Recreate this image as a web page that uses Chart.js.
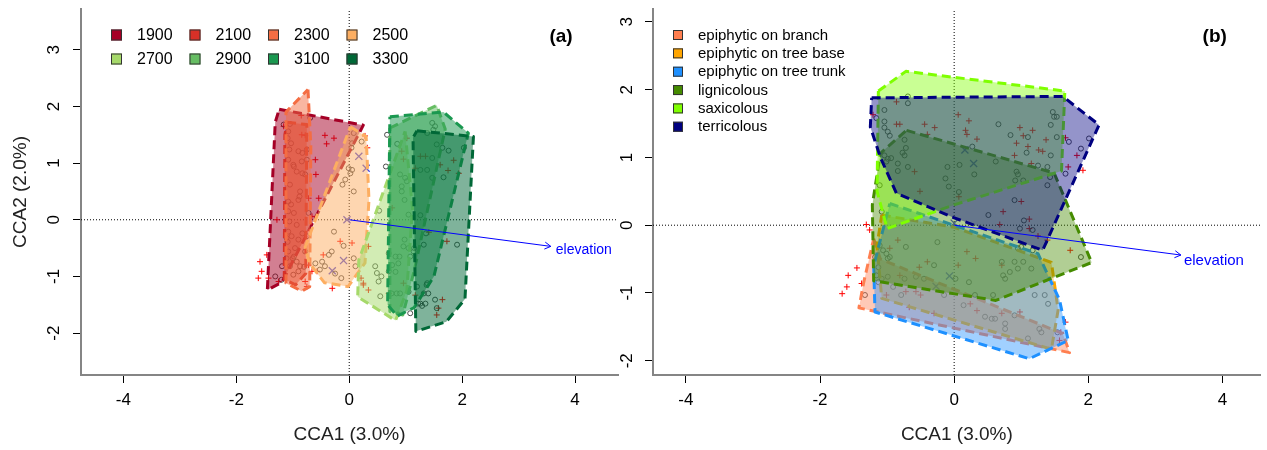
<!DOCTYPE html>
<html>
<head>
<meta charset="utf-8">
<script src="https://cdn.jsdelivr.net/npm/chart.js@4.4.1/dist/chart.umd.min.js"></script>
<style>
  html, body { margin: 0; padding: 0; background: #ffffff; }
  #wrap { position: relative; width: 1267px; height: 450px; overflow: hidden; }
  #boxA { position: absolute; left: 0; top: 0; width: 625px; height: 450px; }
  #boxB { position: absolute; left: 600px; top: 0; width: 667px; height: 450px; }
</style>
</head>
<body>
<div id="wrap">
  <div id="boxA"><canvas id="cA" width="625" height="450"></canvas></div>
  <div id="boxB"><canvas id="cB" width="667" height="450"></canvas></div>
</div>
<script>
// ---------- axes ----------
const xTicks = [-4, -2, 0, 2, 4];
const yTicks = [-2, -1, 0, 1, 2, 3];

// ---------- panel (a): elevation groups ----------
const elevationLabels = ['1900', '2100', '2300', '2500', '2700', '2900', '3100', '3300'];
const elevationColors = ['#a50026', '#d73027', '#f46d43', '#fdae61', '#a6d96a', '#66bd63', '#1a9850', '#006837'];

// hull vertices (CCA1, CCA2) per elevation
const hull1900 = [[-1.24, 1.95], [0.25, 1.67], [-1.19, -1.10], [-1.45, -1.24], [-1.31, 1.72]];
const hull2100 = [[-1.10, 1.72], [-0.75, 1.68], [-0.77, -0.95], [-0.95, -1.15], [-1.15, -1.05], [-1.14, 1.50]];
const hull2300 = [[-0.73, 2.30], [-0.68, 1.30], [-0.70, -1.18], [-0.84, -1.26], [-1.12, -1.12], [-1.12, 1.90]];
const hull2500 = [[0.02, 1.64], [0.30, 1.47], [0.35, 0.35], [0.28, -0.76], [-0.02, -1.18], [-0.44, -1.11], [-0.71, -0.76], [-0.78, -0.48]];
const hull2700 = [[0.99, 1.56], [1.12, 0.20], [1.02, -1.25], [0.82, -1.78], [0.15, -1.36], [0.17, -0.71]];
const hull2900 = [[0.72, 1.62], [1.55, 2.02], [1.70, 1.60], [1.15, -0.90], [0.95, -1.68], [0.72, -1.62]];
const hull3100 = [[0.72, 1.82], [1.67, 1.90], [2.11, 1.53], [1.50, -1.00], [1.15, -1.55], [0.85, -1.70], [0.68, -1.50]];
const hull3300 = [[1.20, 1.57], [2.20, 1.47], [2.05, -1.40], [1.72, -1.80], [1.18, -1.97], [1.13, 1.45]];
const hullsA = [hull1900, hull2100, hull2300, hull2500, hull2700, hull2900, hull3100, hull3300];

// site scores
const sitesA = [
  [-0.69, 1.80], [-1.05, 1.69], [-1.08, 1.56], [-1.09, 1.44], [-1.03, 1.35], [-1.06, 1.24], [-1.08, 1.06], [-0.90, 1.21],
  [-0.99, 0.97], [-0.84, 1.03], [-0.93, 0.85], [-0.78, 0.80], [-0.83, 0.82], [-0.75, 1.06], [-0.75, 1.24], [-1.05, 0.62],
  [-0.87, 0.50], [-1.08, 0.32], [-1.03, 0.27], [-0.90, 0.35], [-1.08, 0.15], [-1.06, -0.03], [-0.93, -0.09], [-1.08, -0.21],
  [-1.11, -0.32], [-1.02, -0.29], [-0.90, -0.35], [-0.96, -0.50], [-1.08, -0.56], [-1.11, -0.68], [-1.00, -0.68], [-0.93, -0.74],
  [-0.87, -0.82], [-1.05, -0.82], [-1.19, -0.82], [-0.99, -0.97], [-0.90, -0.91], [-1.31, -1.00], [-0.78, -0.56], [-0.75, -0.29],
  [-0.72, 0.12], [-1.16, 1.68], [-0.83, 1.18], [-0.98, 0.94], [-0.88, 0.41], [-0.98, 0.12], [-0.83, -0.24], [-1.09, -0.39],
  [-0.98, -0.65], [-0.80, -0.83], [-1.20, -1.06],
  [0.08, 1.53], [0.05, 1.35], [0.04, 1.27], [-0.01, 0.91], [0.02, 0.82], [-0.07, 0.71], [-0.12, 0.62], [0.08, 0.50],
  [0.05, 0.88], [-0.27, -0.21], [-0.31, -0.56], [-0.48, -0.74], [-0.60, -0.77], [-0.43, -0.82], [-0.14, -1.03], [0.08, -0.68],
  [0.11, -0.82], [0.22, 1.38], [-0.36, -0.62], [-0.52, -0.88], [-0.25, -0.95], [-0.10, -0.46],
  [0.67, 1.50], [0.85, 1.34], [0.65, 0.94], [0.90, 0.80], [0.99, 0.74], [1.02, 0.68], [0.93, 0.59], [0.98, 0.35],
  [0.53, 0.16], [1.05, 0.09], [0.98, -0.35], [0.96, -0.47], [1.05, -0.50], [1.14, -0.56], [0.70, -0.59], [0.82, -0.65],
  [0.87, -0.77], [0.76, -0.80], [0.70, -0.91], [0.82, -0.92], [0.46, -0.82], [0.49, -0.94], [0.52, -1.09], [0.55, -1.35],
  [0.84, -1.30], [0.90, -1.30], [1.05, -1.27], [1.20, -1.18], [1.32, -1.30], [1.38, -1.12], [1.26, -1.48], [1.29, -1.52],
  [1.35, -1.48], [1.52, -1.41], [1.55, -1.56], [1.08, -1.65], [1.47, 1.71], [1.52, 1.65], [1.49, 1.59], [1.38, 1.53],
  [1.55, 1.33], [1.65, 1.27], [1.76, 1.22], [2.03, 1.27], [1.26, 0.88], [1.38, 0.88], [1.47, 0.74], [1.67, 0.75],
  [1.91, -0.44], [1.32, -0.44], [1.47, 1.09], [0.93, 0.50], [1.26, 0.08], [1.36, -0.24], [1.15, -0.50], [0.89, -0.65],
  [1.08, -0.65], [0.57, -1.00], [0.75, -1.30], [1.37, -1.15], [1.40, -1.30], [1.22, -1.48]
];
// species scores
const speciesA = [
  [-0.85, 1.84], [-1.16, 1.65], [-0.84, 1.50], [-0.78, 1.49], [-0.43, 1.49], [-0.27, 1.44], [-0.40, 1.34], [-0.60, 1.06],
  [-0.59, 0.80], [-0.54, 0.38], [-0.72, 0.38], [-1.28, 0.00], [-0.66, 0.06], [-0.16, -0.38], [0.05, -0.41], [-0.46, -0.62],
  [-1.58, -0.74], [-1.46, -0.62], [-1.55, -0.91], [-1.61, -1.03], [-1.43, -1.03], [-1.25, -1.09], [-0.72, -0.80], [-0.66, -0.91],
  [-0.57, -0.91], [-0.78, -1.09], [-0.75, -1.18], [-0.30, -1.21], [0.21, -1.03], [0.25, -1.15], [0.28, 1.48], [0.32, 1.27],
  [1.02, 1.44], [0.93, 1.21], [0.96, 1.07], [1.26, 1.12], [1.35, 1.12], [1.17, 0.91], [1.61, 0.97], [1.75, 0.87],
  [1.94, 0.82], [1.85, 1.05], [0.76, 0.21], [1.41, -0.22], [1.73, -0.38], [0.34, -0.47], [0.25, -1.12], [0.34, -1.24],
  [0.96, -1.12], [1.17, -1.33], [0.70, -1.30], [1.65, -1.41], [1.58, -1.56], [1.55, -1.68]
];
const centroidsA = [[0.17, 1.12], [0.30, 0.91], [-0.04, 0.00], [-0.10, -0.72], [-0.30, -0.90]];
const elevationArrowA = [3.57, -0.47];

// ---------- panel (b): substrate groups ----------
const substrateLabels = ['epiphytic on branch', 'epiphytic on tree base', 'epiphytic on tree trunk', 'lignicolous', 'saxicolous', 'terricolous'];
const substrateColors = ['#ff7f50', '#ffa500', '#1e90ff', '#458b00', '#7fff00', '#000080'];

const hullBranch = [[-1.20, -0.20], [-1.10, -0.50], [1.62, -1.60], [1.72, -1.88], [-1.42, -1.22], [-1.35, -0.85]];
const hullTreeBase = [[-1.08, 0.15], [0.00, -0.03], [1.45, -0.55], [1.55, -1.25], [1.45, -1.83], [-1.08, -1.08], [-1.15, -0.30]];
const hullTreeTrunk = [[-0.96, 0.32], [1.25, -0.42], [1.57, -1.10], [1.70, -1.70], [1.12, -1.97], [-1.18, -1.28], [-1.20, -0.60]];
const hullLignicolous = [[-0.71, 1.40], [1.49, 0.77], [2.05, -0.55], [0.62, -1.11], [-1.20, -0.82], [-1.22, 0.30], [-1.10, 1.06]];
const hullSaxicolous = [[-1.13, 1.98], [-0.72, 2.27], [1.65, 1.98], [1.60, 0.80], [0.00, 0.30], [-1.00, -0.05], [-1.15, 0.50]];
const hullTerricolous = [[-1.23, 1.88], [1.62, 1.90], [2.16, 1.48], [1.32, -0.37], [-0.03, 0.12], [-0.86, 0.47], [-1.10, 1.00], [-1.25, 1.45]];
const hullsB = [hullBranch, hullTreeBase, hullTreeTrunk, hullLignicolous, hullSaxicolous, hullTerricolous];

const sitesB = [
  [-0.69, 1.90], [-0.69, 1.80], [-1.04, 1.70], [-1.16, 1.58], [-1.04, 1.53], [-1.04, 1.44], [-0.99, 1.38], [-0.96, 1.32],
  [-0.74, 1.26], [-0.72, 1.14], [-0.77, 1.07], [-0.74, 1.03], [-1.04, 1.03], [-0.99, 0.98], [-0.94, 0.99], [-1.01, 0.94],
  [-0.84, 0.91], [-0.84, 0.80], [-0.69, 0.86], [-1.11, 0.59], [-0.10, 0.86], [-0.13, 0.69], [-0.08, 0.57], [-1.08, 0.20],
  [-0.72, -0.32], [-0.25, -0.25], [-1.11, -0.30], [-1.06, -0.37], [-1.01, -0.42], [-0.96, -0.47], [-0.99, -0.49], [-1.18, -0.47],
  [-1.13, -0.62], [-1.16, -0.74], [-1.08, -0.79], [-0.99, -0.76], [-1.13, -0.84], [-0.57, -0.76], [-0.45, -0.79], [-0.30, -0.59],
  [-0.74, -0.79], [-0.79, -1.03], [-1.33, -1.03], [-0.15, -1.03], [-0.91, -0.91],
  [1.47, 1.67], [1.49, 1.60], [1.53, 1.60], [1.44, 1.48], [0.66, 1.49], [0.84, 1.33], [1.10, 1.30], [1.53, 1.30],
  [1.08, 1.07], [1.44, 1.03], [0.27, 1.16], [0.62, 0.94], [0.93, 0.79], [0.95, 0.75], [1.03, 0.66], [0.91, 0.66],
  [1.25, 0.88], [1.39, 0.86], [1.43, 0.71], [1.39, 0.59], [0.08, 0.89], [0.30, 0.75], [0.07, 0.49], [0.90, 0.37],
  [1.04, 0.07], [0.98, -0.05], [1.17, -0.07], [0.51, 0.15], [1.71, 1.23], [1.89, 1.13], [2.01, 1.28], [1.66, 0.76],
  [0.95, -0.34], [1.00, -0.32], [1.17, -0.37], [1.89, -0.47], [0.71, -0.54], [0.73, -0.74], [0.76, -0.79], [0.83, -0.69],
  [0.90, -0.54], [1.03, -0.54], [1.15, -0.64], [0.95, -0.64], [1.20, -1.03], [1.35, -1.03], [1.40, -1.16], [0.58, -1.03],
  [0.46, -1.35], [0.56, -1.38], [0.61, -1.38], [0.76, -1.45], [0.76, -1.53], [0.90, -1.33], [1.27, -1.53], [1.30, -1.58],
  [1.10, -1.67], [1.54, -1.58], [0.14, -1.18], [0.02, -0.79], [0.22, -0.84], [0.31, -1.03]
];
const speciesB = [
  [-0.86, 1.82], [-0.81, 1.49], [-0.86, 1.49], [-0.44, 1.49], [-0.29, 1.44], [-0.40, 1.34], [-1.21, 1.63], [-0.59, 0.79],
  [-0.51, 0.50], [-1.31, 0.01], [-1.26, -0.07], [-1.58, -0.74], [-1.45, -0.63], [-1.67, -1.01], [-1.60, -0.91], [-1.38, -0.86],
  [-0.84, -0.22], [-0.96, -0.34], [-0.40, -0.54], [-0.52, -0.62], [-0.81, -0.74], [-0.72, -0.98], [-0.57, -0.98], [-0.50, -1.03],
  [-1.01, -1.03], [-0.67, -1.21], [-0.30, -1.30],
  [0.06, 1.63], [0.22, 1.54], [0.98, 1.44], [1.17, 1.40], [0.17, 1.40], [1.03, 1.32], [0.19, 1.34], [0.34, 1.27],
  [1.37, 1.26], [0.93, 1.21], [1.10, 1.16], [1.26, 1.11], [1.32, 1.09], [0.90, 1.03], [1.15, 0.91], [1.66, 1.29],
  [1.83, 1.03], [1.70, 0.86], [1.92, 0.81], [0.07, 0.42], [0.73, 0.20], [1.00, 0.35], [1.12, 0.09], [1.12, -0.05],
  [1.25, -0.16], [1.39, -0.22], [1.73, -0.37], [0.68, 0.01], [0.19, -0.39], [0.32, -0.49], [0.06, -0.59], [0.71, -0.59],
  [0.24, -1.16], [0.34, -1.26], [0.71, -1.30], [0.98, -1.28], [1.66, -1.43], [1.59, -1.58], [1.57, -1.70]
];
const centroidsB = [[0.16, 1.11], [0.29, 0.91], [-0.07, -0.75], [-0.27, -0.90], [0.00, 0.03]];
const elevationArrowB = [3.38, -0.44];

// ---------- drawing ----------
const FONT = "'Liberation Sans', Arial, Helvetica, sans-serif";

function rgba(hex, a) {
  const n = parseInt(hex.slice(1), 16);
  return 'rgba(' + (n >> 16) + ',' + ((n >> 8) & 255) + ',' + (n & 255) + ',' + a + ')';
}
function toXY(list) { return list.map(p => ({ x: p[0], y: p[1] })); }

function hullDataset(pts, color, alpha, order) {
  return {
    data: toXY(pts.concat([pts[0]])),
    showLine: true,
    fill: 'shape',
    backgroundColor: rgba(color, alpha),
    borderColor: color,
    borderWidth: 3,
    borderDash: [9, 5],
    borderJoinStyle: 'round',
    pointRadius: 0,
    order: order
  };
}

// decorations: rotated y tick labels, arrow head + label, legend, panel tag
const panelDecor = {
  id: 'panelDecor',
  afterDraw(chart, args, opts) {
    const { ctx, chartArea: area, scales } = chart;
    const xs = scales.x, ys = scales.y;
    ctx.save();
    // y tick labels, rotated like base R
    ctx.fillStyle = '#000';
    ctx.font = '17px ' + FONT;
    ctx.textAlign = 'center';
    ctx.textBaseline = 'middle';
    yTicks.forEach(v => {
      const py = ys.getPixelForValue(v);
      ctx.save();
      ctx.translate(area.left - opts.yLabelGap, py);
      ctx.rotate(-Math.PI / 2);
      ctx.fillText(String(v), 0, 0);
      ctx.restore();
    });
    // arrow head and label
    const ox = xs.getPixelForValue(0), oy = ys.getPixelForValue(0);
    const tx = xs.getPixelForValue(opts.arrow[0]), ty = ys.getPixelForValue(opts.arrow[1]);
    const ang = Math.atan2(ty - oy, tx - ox);
    const hl = 7;
    ctx.strokeStyle = '#0000ff';
    ctx.lineWidth = 1;
    ctx.beginPath();
    ctx.moveTo(tx - hl * Math.cos(ang - Math.PI / 6), ty - hl * Math.sin(ang - Math.PI / 6));
    ctx.lineTo(tx, ty);
    ctx.lineTo(tx - hl * Math.cos(ang + Math.PI / 6), ty - hl * Math.sin(ang + Math.PI / 6));
    ctx.stroke();
    ctx.fillStyle = '#0000ff';
    ctx.font = opts.arrowFont + 'px ' + FONT;
    ctx.textAlign = 'left';
    ctx.textBaseline = 'middle';
    ctx.fillText('elevation', tx + opts.arrowText[0], ty + opts.arrowText[1]);
    // legend
    const lg = opts.legend;
    ctx.font = lg.fontSize + 'px ' + FONT;
    lg.labels.forEach((lab, i) => {
      const col = i % lg.cols, row = Math.floor(i / lg.cols);
      const bx = area.left + lg.x + col * lg.colStep;
      const by = lg.y + row * lg.rowStep;
      ctx.fillStyle = lg.colors[i];
      ctx.fillRect(bx, by - lg.box / 2, lg.box, lg.box);
      ctx.strokeStyle = '#333';
      ctx.lineWidth = 1;
      ctx.strokeRect(bx + 0.5, by - lg.box / 2 + 0.5, lg.box - 1, lg.box - 1);
      ctx.fillStyle = '#000';
      ctx.textAlign = 'left';
      ctx.fillText(lab, bx + lg.textGap, by + 0.5);
    });
    // panel tag
    ctx.font = 'bold 19px ' + FONT;
    ctx.textAlign = 'center';
    ctx.fillStyle = '#000';
    ctx.fillText(opts.tag, area.right - opts.tagFromRight, 37);
    ctx.restore();
  }
};

function buildChart(canvasId, p) {
  const datasets = [];
  // reference lines through the origin
  datasets.push({ data: [{ x: p.xRange[0], y: 0 }, { x: p.xRange[1], y: 0 }], showLine: true, borderColor: '#000', borderWidth: 1, borderDash: [1, 2], pointRadius: 0, order: 90 });
  datasets.push({ data: [{ x: 0, y: p.yRange[0] }, { x: 0, y: p.yRange[1] }], showLine: true, borderColor: '#000', borderWidth: 1, borderDash: [1, 2], pointRadius: 0, order: 90 });
  // scores
  datasets.push({ data: toXY(p.sites), pointStyle: 'circle', pointRadius: 2.5, pointBorderWidth: 0.9, pointBorderColor: '#3a3a3a', pointBackgroundColor: 'rgba(0,0,0,0)', order: 80 });
  datasets.push({ data: toXY(p.species), pointStyle: 'cross', pointRadius: 3, pointBorderWidth: 1, pointBorderColor: '#ff0000', order: 80 });
  datasets.push({ data: toXY(p.centroids), pointStyle: 'crossRot', pointRadius: 5, pointBorderWidth: 1.3, pointBorderColor: '#4b4bd8', order: 80 });
  // group hulls, later groups drawn on top
  p.hulls.forEach((h, i) => datasets.push(hullDataset(h, p.colors[i], p.alpha, 50 - i)));
  // environmental vector
  datasets.push({ data: [{ x: 0, y: 0 }, { x: p.arrow[0], y: p.arrow[1] }], showLine: true, borderColor: '#0000ff', borderWidth: 1, pointRadius: 0, order: 0 });

  return new Chart(document.getElementById(canvasId), {
    type: 'scatter',
    data: { datasets },
    options: {
      responsive: false,
      animation: false,
      devicePixelRatio: 1,
      events: [],
      layout: { padding: p.padding },
      plugins: {
        legend: { display: false },
        tooltip: { enabled: false },
        panelDecor: p.decor
      },
      scales: {
        x: {
          type: 'linear', position: 'bottom', min: p.xRange[0], max: p.xRange[1],
          afterBuildTicks: s => { s.ticks = xTicks.map(v => ({ value: v })); },
          afterFit: s => { s.height = 75; },
          grid: { drawOnChartArea: false, drawTicks: true, tickLength: 8, tickColor: '#000', tickWidth: 1 },
          border: { display: true, color: '#858585', width: 2 },
          ticks: { color: '#000', font: { size: 17, family: FONT }, padding: 7, maxRotation: 0, autoSkip: false, callback: v => String(v) },
          title: { display: true, text: 'CCA1 (3.0%)', color: '#222', font: { size: 19, family: FONT }, padding: { top: 0, bottom: 4 } }
        },
        y: {
          type: 'linear', position: 'left', min: p.yRange[0], max: p.yRange[1],
          afterBuildTicks: s => { s.ticks = yTicks.map(v => ({ value: v })); },
          afterFit: s => { s.width = p.yWidth; },
          grid: { drawOnChartArea: false, drawTicks: true, tickLength: 8, tickColor: '#000', tickWidth: 1 },
          border: { display: true, color: '#858585', width: 2 },
          ticks: { display: false },
          title: { display: !!p.yTitle, text: p.yTitle || '', color: '#222', font: { size: 19, family: FONT }, padding: { top: 9, bottom: 0 } }
        }
      }
    },
    plugins: [panelDecor]
  });
}

buildChart('cA', {
  xRange: [-4.75, 4.76], yRange: [-2.74, 3.72],
  padding: { left: 0, top: 9, right: 7, bottom: 0 }, yWidth: 81, yTitle: 'CCA2 (2.0%)',
  sites: sitesA, species: speciesA, centroids: centroidsA,
  hulls: hullsA, colors: elevationColors, alpha: 0.5, arrow: elevationArrowA,
  decor: {
    yLabelGap: 27, arrow: elevationArrowA, arrowText: [5, 4], arrowFont: 14, tag: '(a)', tagFromRight: 57,
    legend: { labels: elevationLabels, colors: elevationColors, cols: 4, x: 30, colStep: 78.5, y: 35, rowStep: 24, box: 11, textGap: 26, fontSize: 16 }
  }
});

buildChart('cB', {
  xRange: [-4.49, 4.57], yRange: [-2.21, 3.19],
  padding: { left: 0, top: 9, right: 0, bottom: 0 }, yWidth: 53, yTitle: null,
  sites: sitesB, species: speciesB, centroids: centroidsB,
  hulls: hullsB, colors: substrateColors, alpha: 0.42, arrow: elevationArrowB,
  decor: {
    yLabelGap: 26, arrow: elevationArrowB, arrowText: [3, 6], arrowFont: 15, tag: '(b)', tagFromRight: 46,
    legend: { labels: substrateLabels, colors: substrateColors, cols: 1, x: 20, colStep: 0, y: 35, rowStep: 18.35, box: 10, textGap: 25, fontSize: 15 }
  }
});
</script>
</body>
</html>
